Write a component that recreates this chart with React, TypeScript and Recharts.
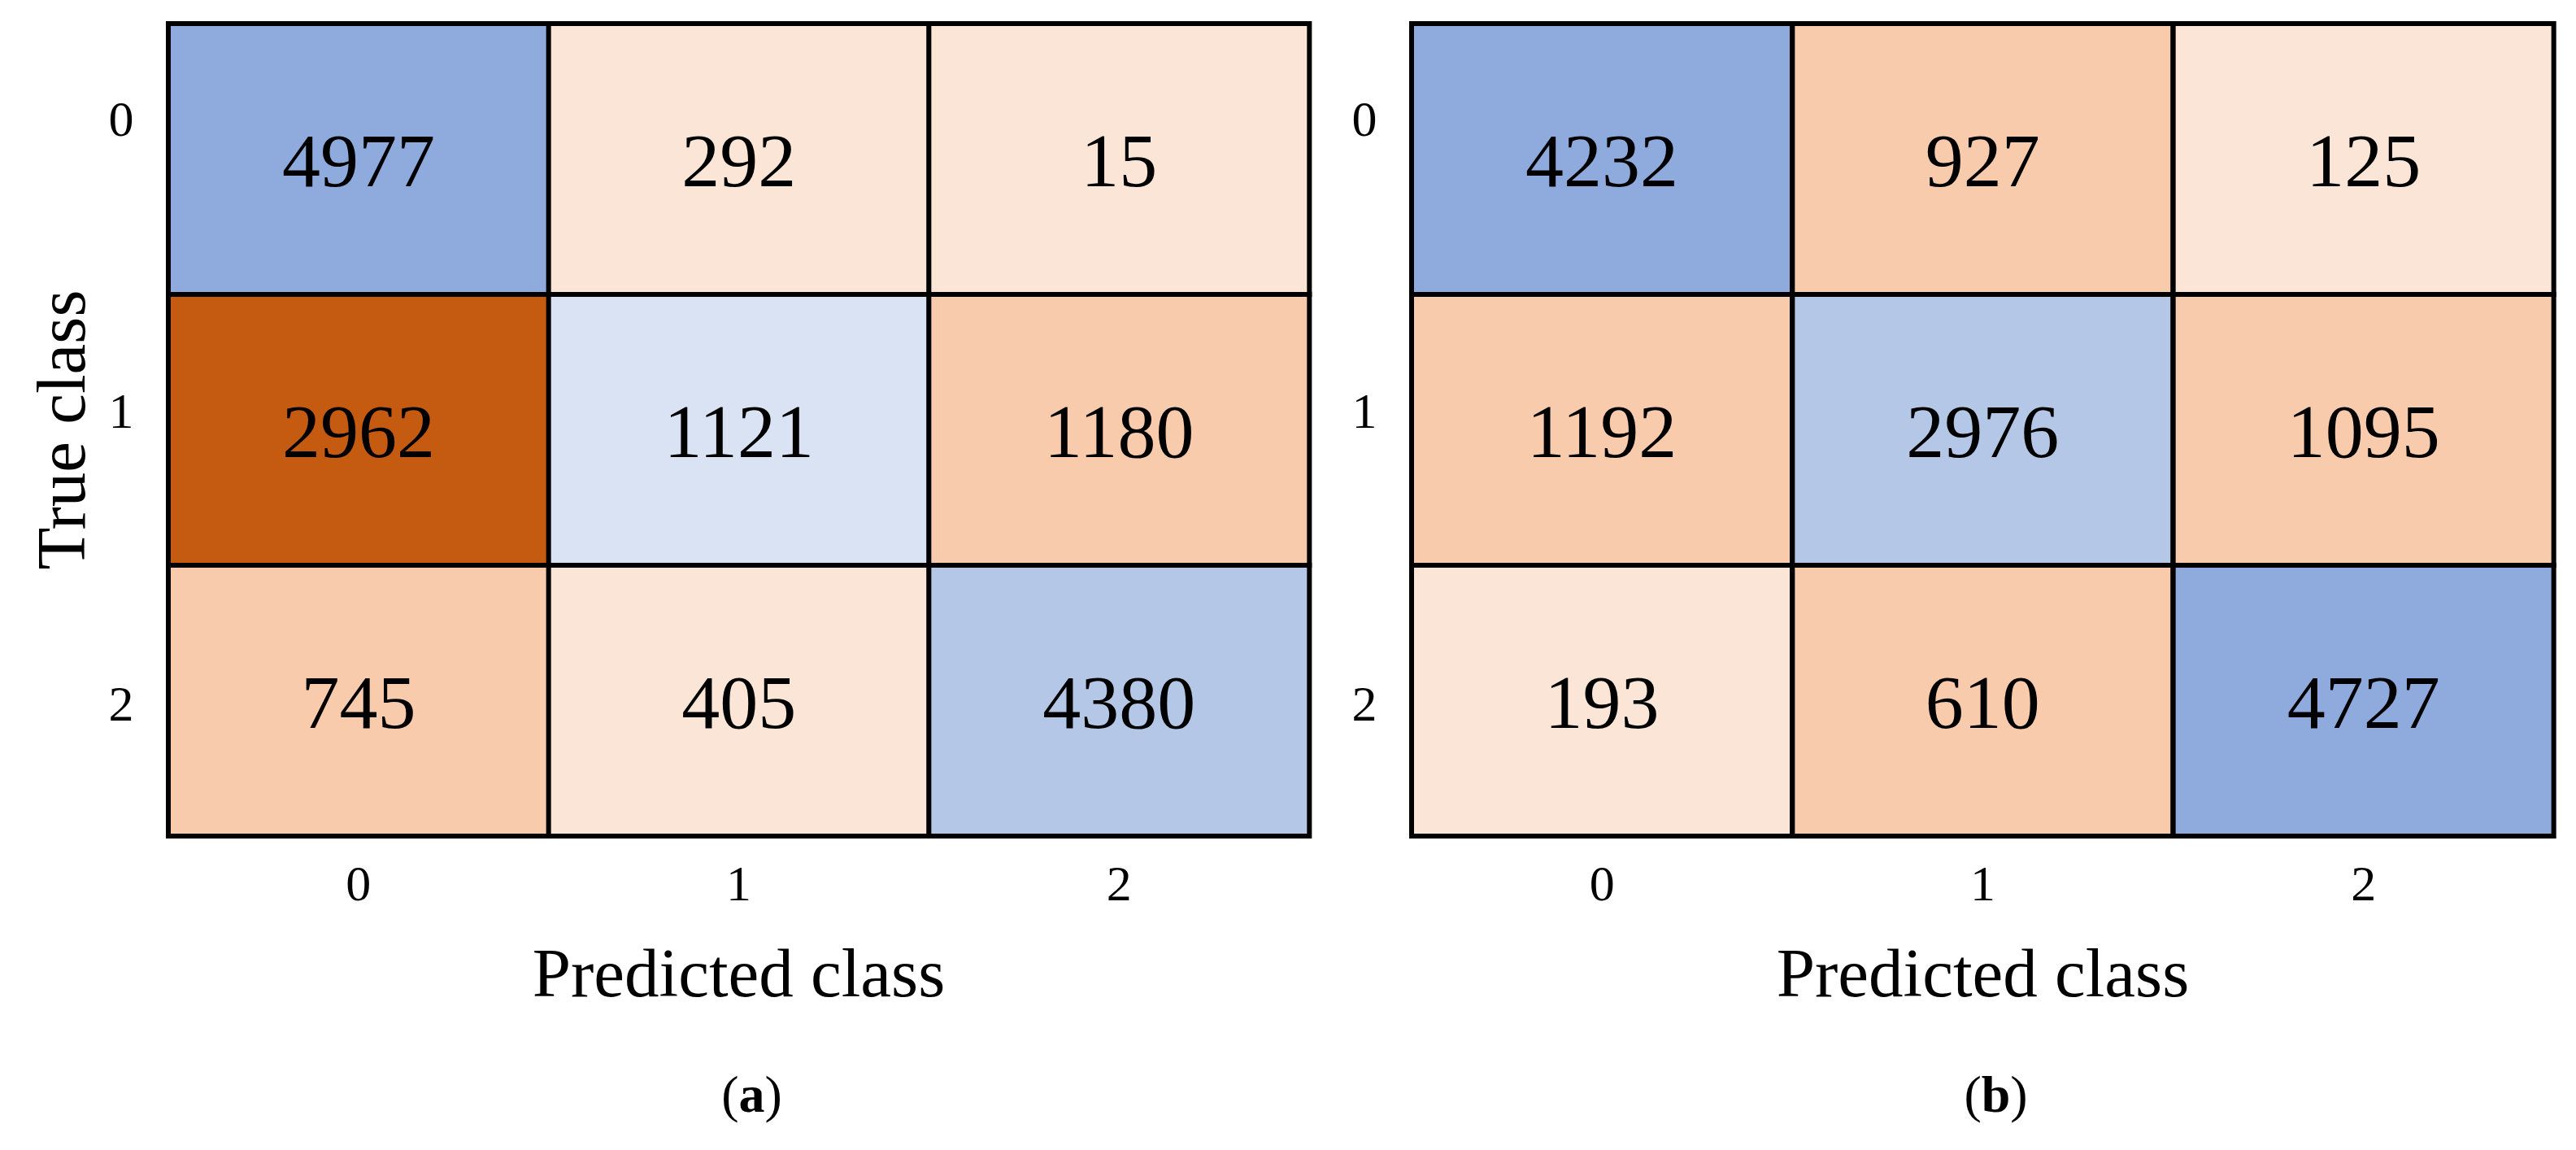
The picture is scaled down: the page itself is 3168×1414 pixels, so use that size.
import React from 'react';
import { BarChart, Bar, XAxis, YAxis, Cell, LabelList, Label } from 'recharts';

const predictedClasses = ['0', '1', '2'];
const trueClasses = ['0', '1', '2'];

// rows = true class, columns = predicted class
const matrixA = [
  [4977, 292, 15],
  [2962, 1121, 1180],
  [745, 405, 4380],
];
const matrixB = [
  [4232, 927, 125],
  [1192, 2976, 1095],
  [193, 610, 4727],
];

// y positions of the true-class tick labels (domain 0..3, top row = 3)
const trueTickPositions = [2.65, 1.57, 0.49];

const colorsA = [
  ['#8FAADC', '#FBE5D6', '#FBE5D6'],
  ['#C55A11', '#DAE3F3', '#F8CBAD'],
  ['#F8CBAD', '#FBE5D6', '#B4C7E7'],
];
const colorsB = [
  ['#8FAADC', '#F8CBAD', '#FBE5D6'],
  ['#F8CBAD', '#B4C7E7', '#F8CBAD'],
  ['#FBE5D6', '#F8CBAD', '#8FAADC'],
];

const FONT = '"Liberation Serif", "Times New Roman", serif';
const H = 1414;

const buildRows = (m: number[][]) =>
  predictedClasses.map((p, c) => ({
    col: p,
    cell0: 1,
    cell1: 1,
    cell2: 1,
    n0: m[0][c],
    n1: m[1][c],
    n2: m[2][c],
  }));

const YTick = ({ x, y, index }: any) => (
  <text x={x - 58} y={y} textAnchor="middle" dominantBaseline="central" fontFamily={FONT} fontSize={62} fill="#000">
    {trueClasses[index]}
  </text>
);

const XTick = ({ x, y, payload }: any) => (
  <text x={x} y={y + 58} textAnchor="middle" dominantBaseline="central" fontFamily={FONT} fontSize={62} fill="#000">
    {payload.value}
  </text>
);

const XTitle = ({ viewBox, caption }: any) => {
  const cx = viewBox.x + viewBox.width / 2;
  return (
    <g>
      <text x={cx} y={viewBox.y + 197} textAnchor="middle" fontFamily={FONT} fontSize={85} fill="#000">
        Predicted class
      </text>
      <text x={cx + 16} y={viewBox.y + 339} textAnchor="middle" fontFamily={FONT} fontSize={64} fill="#000">
        (<tspan fontWeight="bold">{caption}</tspan>)
      </text>
    </g>
  );
};

const YTitle = ({ viewBox }: any) => {
  const x = viewBox.x + 75;
  const y = viewBox.y + viewBox.height / 2;
  return (
    <text
      x={x}
      y={y}
      transform={`rotate(-90, ${x}, ${y})`}
      textAnchor="middle"
      dominantBaseline="central"
      fontFamily={FONT}
      fontSize={85}
      fill="#000"
    >
      True class
    </text>
  );
};

interface PanelProps {
  matrix: number[][];
  colors: string[][];
  caption: string;
  left: number;
  width: number;
  axisWidth: number;
  marginRight: number;
  showTitle: boolean;
}

const Panel = ({ matrix, colors, caption, left, width, axisWidth, marginRight, showTitle }: PanelProps) => {
  const rows = buildRows(matrix);
  // stack from bottom row (true 2) to top row (true 0)
  const order = [2, 1, 0];
  return (
    <div style={{ position: 'absolute', left, top: 0 }}>
      <BarChart
        width={width}
        height={H}
        data={rows}
        margin={{ top: 29, right: marginRight, bottom: 0, left: 0 }}
        barCategoryGap={0}
        barGap={0}
      >
        <XAxis
          dataKey="col"
          axisLine={false}
          tickLine={false}
          tickSize={0}
          tickMargin={0}
          height={386}
          tick={<XTick />}
          interval={0}
        >
          <Label content={<XTitle caption={caption} />} />
        </XAxis>
        <YAxis
          type="number"
          domain={[0, 3]}
          ticks={trueTickPositions}
          interval={0}
          axisLine={false}
          tickLine={false}
          tickSize={0}
          tickMargin={0}
          width={axisWidth}
          tick={<YTick />}
        >
          {showTitle && <Label content={<YTitle />} />}
        </YAxis>
        {order.map((r) => (
          <Bar
            key={r}
            dataKey={`cell${r}`}
            stackId="cm"
            stroke="#000"
            strokeWidth={6}
            isAnimationActive={false}
          >
            {rows.map((_, c) => (
              <Cell key={c} fill={colors[r][c]} />
            ))}
            <LabelList
              dataKey={`n${r}`}
              position="center"
              fill="#000"
              stroke="none"
              fontSize={94}
              fontFamily={FONT}
            />
          </Bar>
        ))}
      </BarChart>
    </div>
  );
};

export default function App() {
  return (
    <div style={{ position: 'absolute', left: 0, top: 0, width: 3168, height: H, background: '#fff' }}>
      <Panel matrix={matrixA} colors={colorsA} caption="a" left={0} width={1660} axisWidth={207} marginRight={50} showTitle />
      <Panel matrix={matrixB} colors={colorsB} caption="b" left={1660} width={1508} axisWidth={76} marginRight={27} showTitle={false} />
    </div>
  );
}
